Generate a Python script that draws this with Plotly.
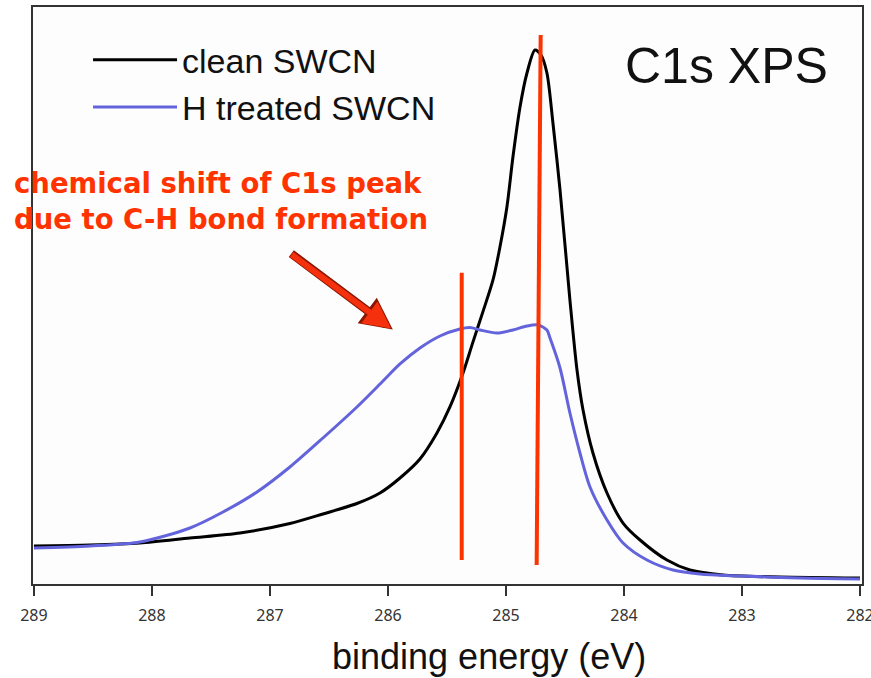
import plotly.graph_objects as go

# clean SWCN C1s spectrum (binding energy eV, intensity a.u.)
clean_energy = [289.000, 288.525, 288.102, 287.678, 287.254, 286.831, 286.551, 286.263,
                286.068, 285.898, 285.729, 285.585, 285.475, 285.364, 285.280, 285.195,
                285.110, 285.051, 284.992, 284.941, 284.881, 284.822, 284.754, 284.703,
                284.653, 284.602, 284.542, 284.458, 284.398, 284.347, 284.263, 284.144,
                284.008, 283.864, 283.636, 283.441, 283.161, 282.678, 282.000]
clean_intensity = [7.12, 7.30, 7.68, 8.61, 9.55, 11.33, 13.11, 15.07,
                   17.04, 19.85, 23.41, 28.28, 33.15, 39.51, 45.30, 51.00,
                   56.93, 63.11, 70.60, 79.96, 89.33, 95.69, 100.0, 99.06,
                   95.69, 86.33, 73.78, 53.18, 40.07, 32.58, 24.53, 17.04,
                   11.42, 8.24, 4.49, 2.62, 1.69, 1.31, 1.12]

# H treated SWCN C1s spectrum
h_energy = [289.000, 288.525, 288.102, 287.678, 287.398, 287.110, 286.831, 286.551,
            286.263, 286.042, 285.898, 285.729, 285.559, 285.390, 285.305, 285.220,
            285.076, 284.941, 284.822, 284.729, 284.653, 284.627, 284.542, 284.458,
            284.373, 284.288, 284.144, 284.008, 283.805, 283.585, 283.356, 283.017,
            282.508, 282.000]
h_intensity = [6.74, 7.12, 7.87, 10.49, 13.48, 17.23, 21.91, 27.34,
               33.15, 38.01, 41.20, 44.19, 46.44, 47.75, 48.03, 47.57,
               47.00, 47.57, 48.31, 48.50, 47.57, 46.07, 40.45, 32.02,
               24.53, 18.16, 11.99, 7.68, 4.49, 2.62, 1.87, 1.50,
               1.12, 0.94]

# peak marker lines
marker_energy_top = [284.706, 285.375]
marker_energy_bottom = [284.740, 285.375]
marker_int_top = [102.8, 58.3]
marker_int_bottom = [3.56, 4.49]

tick_values = [289, 288, 287, 286, 285, 284, 283, 282]
tick_labels = ["289", "288", "287", "286", "285", "284", "283", "282"]

RED = "#FF3300"

fig = go.Figure()
fig.add_trace(go.Scatter(x=clean_energy, y=clean_intensity, mode="lines",
                         name="clean SWCN",
                         line=dict(color="#000000", width=3, shape="spline", smoothing=0.8)))
fig.add_trace(go.Scatter(x=h_energy, y=h_intensity, mode="lines",
                         name="H treated SWCN",
                         line=dict(color="#6363DC", width=3, shape="spline", smoothing=0.8)))

for et, eb, it, ib in zip(marker_energy_top, marker_energy_bottom, marker_int_top, marker_int_bottom):
    fig.add_shape(type="line", x0=et, x1=eb, y0=it, y1=ib, xref="x", yref="y",
                  line=dict(color=RED, width=4))

fig.add_annotation(text="C1s XPS", xref="paper", yref="paper", x=0.961, y=0.897,
                   xanchor="right", yanchor="middle", showarrow=False,
                   font=dict(family="Liberation Sans, Arial", size=50, color="#111111"))

fig.add_annotation(text="chemical shift of C1s peak<br>due to C-H bond formation",
                   xref="paper", yref="paper", x=-0.0253, y=0.664, xanchor="left", yanchor="middle",
                   showarrow=False, align="left",
                   font=dict(family="DejaVu Sans", size=27.5, color=RED, weight="bold"))

# arrow with dark outline
fig.add_annotation(text="", xref="paper", yref="paper", x=0.434, y=0.441,
                   ax=-103, ay=-77, axref="pixel", ayref="pixel", showarrow=True,
                   arrowhead=2, arrowsize=0.75, arrowwidth=8.5, arrowcolor="#8A1500")
fig.add_annotation(text="", xref="paper", yref="paper", x=0.432, y=0.443,
                   ax=-101, ay=-75, axref="pixel", ayref="pixel", showarrow=True,
                   arrowhead=2, arrowsize=0.9, arrowwidth=6, arrowcolor="#F5300C")

fig.add_annotation(text="binding energy (eV)", xref="paper", yref="paper", x=0.550, y=-0.1265,
                   xanchor="center", yanchor="middle", showarrow=False,
                   font=dict(family="Liberation Sans, Arial", size=36, color="#111111"))

fig.update_layout(
    width=871, height=678,
    margin=dict(l=33, r=9, t=7, b=94, autoexpand=False),
    paper_bgcolor="#FFFFFF", plot_bgcolor="#FDFDFD",
    showlegend=True,
    legend=dict(x=0.0664, y=0.958, xanchor="left", yanchor="top", bgcolor="rgba(0,0,0,0)",
                font=dict(family="Liberation Sans, Arial", size=34, color="#111111"),
                itemwidth=84, tracegroupgap=0),
    xaxis=dict(range=[289.008, 281.983], tickvals=tick_values, ticktext=tick_labels,
               ticks="outside", ticklen=10, tickwidth=1.5, tickcolor="#333333",
               ticklabeloverflow="allow", ticklabelstandoff=6, automargin=False,
               showline=True, linecolor="#333333", linewidth=2, mirror=True,
               showgrid=False, zeroline=False,
               tickfont=dict(family="Noto Sans", size=16, color="#333333")),
    yaxis=dict(range=[0, 108.05], showticklabels=False, ticks="", showgrid=False, zeroline=False,
               automargin=False,
               showline=True, linecolor="#333333", linewidth=2, mirror=True),
)

fig.write_html("out.html")
